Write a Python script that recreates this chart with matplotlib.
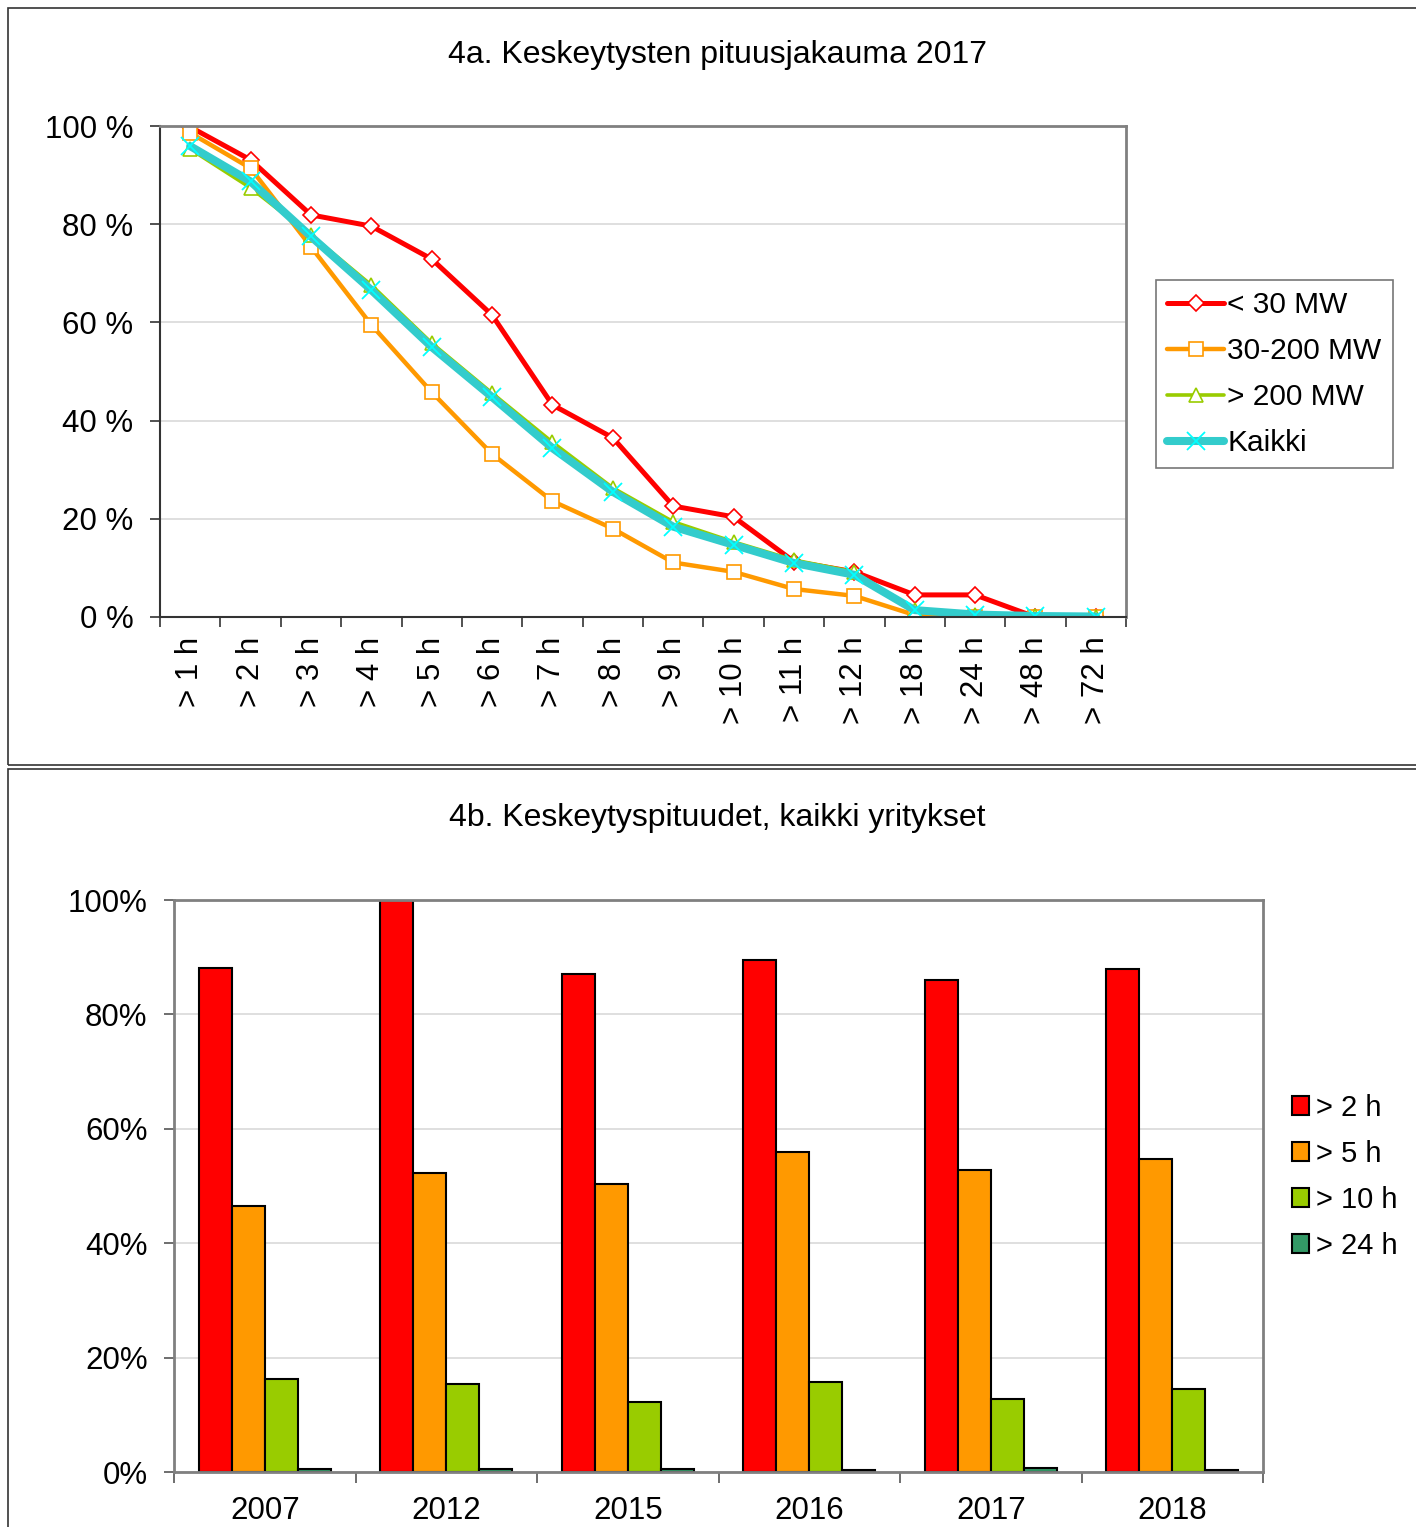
import numpy as np
import matplotlib
matplotlib.use("Agg")
import matplotlib.pyplot as plt
from matplotlib.patches import Rectangle

plt.rcParams['font.family'] = ['Liberation Sans', 'DejaVu Sans']

# 4a data: share of outages longer than given duration (%)
kestot = ["> 1 h", "> 2 h", "> 3 h", "> 4 h", "> 5 h", "> 6 h", "> 7 h", "> 8 h",
          "> 9 h", "> 10 h", "> 11 h", "> 12 h", "> 18 h", "> 24 h", "> 48 h", "> 72 h"]
alle_30 = [99.8, 93.1, 81.9, 79.6, 72.9, 61.5, 43.2, 36.5, 22.6, 20.4, 11.3, 9.2, 4.5, 4.5, 0.0, 0.0]
v30_200 = [98.6, 91.4, 75.4, 59.5, 45.8, 33.2, 23.6, 18.0, 11.1, 9.2, 5.7, 4.3, 0.4, 0.1, 0.0, 0.0]
yli_200 = [95.3, 87.4, 77.8, 67.6, 55.8, 45.6, 35.6, 26.3, 19.4, 15.3, 11.6, 9.2, 1.4, 0.4, 0.2, 0.0]
kaikki = [95.9, 88.7, 77.5, 66.6, 55.0, 44.8, 34.4, 25.5, 18.4, 14.7, 11.0, 8.6, 1.4, 0.5, 0.2, 0.1]

# 4b data
vuodet = ["2007", "2012", "2015", "2016", "2017", "2018"]
yli_2h = [88.1, 100.0, 87.1, 89.5, 86.0, 87.9]
yli_5h = [46.5, 52.3, 50.3, 55.9, 52.8, 54.7]
yli_10h = [16.3, 15.4, 12.2, 15.7, 12.8, 14.5]
yli_24h = [0.5, 0.5, 0.6, 0.4, 0.7, 0.4]

W, H = 1416, 1527
fig = plt.figure(figsize=(W / 100, H / 100), dpi=100)

def fx(px):
    return px / W

def fy(py):
    return 1 - py / H

# panel frames
fig.patches.append(Rectangle((fx(8), fy(765)), fx(1420) - fx(8), fy(8) - fy(765),
                             transform=fig.transFigure, fill=False, ec='#333333', lw=1.2))
fig.patches.append(Rectangle((fx(8), fy(1535)), fx(1420) - fx(8), fy(769) - fy(1535),
                             transform=fig.transFigure, fill=False, ec='#333333', lw=1.2))

fig.text(fx(717), fy(55), "4a. Keskeytysten pituusjakauma 2017", ha='center', va='center', fontsize=23)
fig.text(fx(717), fy(818), "4b. Keskeytyspituudet, kaikki yritykset", ha='center', va='center', fontsize=23)

# ---- 4a ----
ax1 = fig.add_axes([fx(160), fy(617), fx(1126) - fx(160), fy(126) - fy(617)])
x = np.arange(len(kestot))
ax1.plot(x, alle_30, color='#FF0000', lw=3.6, marker='D', ms=8, mfc='white', mec='#FF0000', mew=1.2,
         solid_capstyle='round', label='< 30 MW')
ax1.plot(x, v30_200, color='#FF9900', lw=3.2, marker='s', ms=10, mfc='white', mec='#FF9900', mew=1.2,
         solid_capstyle='round', label='30-200 MW')
ax1.plot(x, yli_200, color='#99CC00', lw=2.6, marker='^', ms=10, mfc='white', mec='#99CC00', mew=1.2,
         solid_capstyle='round', label='> 200 MW')
ax1.plot(x, kaikki, color='#33CCCC', lw=5.8, marker='x', ms=13, mec='#00FFFF', mew=1.3,
         solid_capstyle='round', label='Kaikki')

ax1.set_xlim(-0.5, len(kestot) - 0.5)
ax1.set_ylim(0, 100)
ax1.set_yticks([0, 20, 40, 60, 80, 100])
ax1.set_yticklabels(["%d %%" % v for v in [0, 20, 40, 60, 80, 100]], fontsize=22.5)
ax1.set_xticks(x)
ax1.set_xticklabels(kestot, rotation=90, fontsize=22.5)
ax1.set_xticks(np.arange(-0.5, len(kestot)), minor=True)
ax1.tick_params(axis='x', which='major', length=0, pad=14)
ax1.tick_params(axis='x', which='minor', length=7, width=1.2, color='#333333')
ax1.tick_params(axis='y', length=7, width=1.2, color='#333333', pad=12)
ax1.grid(axis='y', color='#D9D9D9', lw=1.2)
ax1.set_axisbelow(True)
for s in ['left', 'bottom']:
    ax1.spines[s].set_color('#333333')
    ax1.spines[s].set_linewidth(1.5)
for s in ['top', 'right']:
    ax1.spines[s].set_color('#808080')
    ax1.spines[s].set_linewidth(2)

leg1 = fig.legend(loc='upper left', bbox_to_anchor=(fx(1156), fy(280)), borderaxespad=0,
                  fontsize=21.5, frameon=True, fancybox=False, edgecolor='#555555',
                  handlelength=1.9, handletextpad=0.1, labelspacing=0.6, borderpad=0.38)
leg1.get_frame().set_linewidth(1.2)

# ---- 4b ----
ax2 = fig.add_axes([fx(174), fy(1472), fx(1263) - fx(174), fy(900) - fy(1472)])
xg = np.arange(len(vuodet))
bw = 0.182
sarjat = [(yli_2h, '#FF0000', '> 2 h'), (yli_5h, '#FF9900', '> 5 h'),
          (yli_10h, '#99CC00', '> 10 h'), (yli_24h, '#339966', '> 24 h')]
for i, (vals, col, lab) in enumerate(sarjat):
    ax2.bar(xg + (i - 1.5) * bw, np.array(vals) / 100, width=bw, color=col,
            edgecolor='black', linewidth=1.5, label=lab)

ax2.set_xlim(-0.5, len(vuodet) - 0.5)
ax2.set_ylim(0, 1)
ax2.set_yticks([0, 0.2, 0.4, 0.6, 0.8, 1.0])
ax2.set_yticklabels(["0%", "20%", "40%", "60%", "80%", "100%"], fontsize=22.5)
ax2.set_xticks(xg)
ax2.set_xticklabels(vuodet, fontsize=22.5)
ax2.set_xticks(np.arange(-0.5, len(vuodet)), minor=True)
ax2.tick_params(axis='x', which='major', length=0, pad=17)
ax2.tick_params(axis='x', which='minor', length=8, width=1.2, color='#555555')
ax2.tick_params(axis='y', length=7, width=1.2, color='#555555', pad=12)
ax2.grid(axis='y', color='#D9D9D9', lw=1.2)
ax2.set_axisbelow(True)
for s in ['left', 'bottom', 'top', 'right']:
    ax2.spines[s].set_color('#808080')
    ax2.spines[s].set_linewidth(2)

h2, l2 = ax2.get_legend_handles_labels()
fig.legend(h2, l2, loc='upper left', bbox_to_anchor=(fx(1280), fy(1082)), borderaxespad=0,
           fontsize=21, frameon=False, handlelength=0.6, handleheight=0.6,
           handletextpad=0.25, labelspacing=0.62)

fig.savefig("out.png", dpi=100)
